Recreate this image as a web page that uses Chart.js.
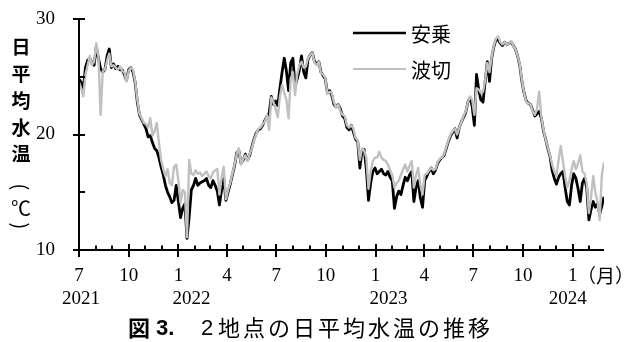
<!DOCTYPE html>
<html>
<head>
<meta charset="utf-8">
<script src="https://cdn.jsdelivr.net/npm/chart.js@4.4.1/dist/chart.umd.min.js"></script>
<style>
  html, body { margin: 0; padding: 0; background: #fff; }
  #wrap { width: 624px; height: 342px; position: relative; }
</style>
</head>
<body>
<div id="wrap"><canvas id="chart" width="624" height="342"></canvas></div>
<script>
// Daily mean water temperature (°C), one reading every 4 days from 1 Jul 2021
const seriesNames = ['安乗', '波切'];
const sampleStepDays = 4;

const anoriTemp = [
  24.8,24.5,24.0,25.8,26.4,26.6,26.2,26.0,27.6,26.6,
  25.7,25.4,25.6,26.8,27.4,25.8,26.1,25.7,25.9,25.6,
  25.6,25.2,24.7,25.6,25.8,25.4,24.5,22.8,21.7,21.3,
  20.9,20.5,19.8,19.9,19.3,18.8,18.6,18.0,17.2,16.5,
  15.6,15.0,14.6,14.1,14.3,15.6,14.2,12.8,13.6,14.0,
  11.0,12.9,15.2,15.6,16.2,15.6,15.8,15.9,16.0,16.2,
  15.6,15.4,16.0,15.6,15.1,13.9,15.2,16.2,14.3,15.0,
  15.7,16.5,17.3,18.4,18.6,17.5,17.8,18.3,17.8,18.2,
  18.9,19.6,20.1,20.4,20.5,20.8,21.2,21.6,21.8,23.3,
  22.6,22.9,22.5,24.0,25.4,26.6,25.5,23.8,26.2,26.6,
  24.2,24.8,25.6,26.8,25.4,24.9,26.5,26.9,27.1,26.3,
  26.1,26.3,25.4,25.1,24.8,23.6,23.8,23.4,22.6,22.4,
  22.6,22.2,21.6,21.4,20.6,20.4,20.8,20.2,19.6,19.4,
  17.1,18.6,18.7,17.0,14.3,15.8,16.8,17.1,16.6,16.8,
  17.0,16.6,16.5,16.8,16.3,16.0,13.6,14.6,15.1,14.8,
  15.6,16.3,16.0,16.5,16.8,14.2,15.4,16.0,14.5,13.7,
  16.0,16.4,16.8,17.1,16.6,16.9,17.5,17.8,18.0,18.2,
  18.8,19.4,19.9,20.2,20.5,19.7,20.6,21.1,21.5,21.9,
  22.8,23.2,22.4,20.8,25.2,23.9,23.0,22.8,24.6,26.3,
  24.6,26.6,27.6,28.2,28.2,27.9,27.7,28.0,27.8,27.9,
  28.0,27.7,27.4,26.8,26.0,24.6,23.6,22.9,22.7,22.6,
  22.1,21.6,21.8,22.0,21.4,20.3,19.6,18.8,18.1,16.9,
  16.2,15.7,16.3,16.6,16.8,15.4,14.2,13.9,15.6,16.6,
  16.2,15.3,14.2,15.8,16.2,15.4,12.6,13.5,14.2,13.7,
  14.0,13.1,13.8,14.6
];

const nakiriTemp = [
  24.5,24.0,23.3,25.2,26.0,26.8,26.0,26.3,27.9,26.7,
  21.7,25.5,25.6,26.4,27.0,25.9,26.0,25.8,25.6,25.9,
  25.5,25.4,24.6,25.5,25.8,25.6,24.6,23.0,21.8,21.4,
  21.0,20.9,20.6,21.4,19.9,20.3,21.0,19.3,17.8,17.0,
  16.4,17.0,15.8,15.6,17.2,17.4,16.0,14.1,15.2,15.0,
  11.1,17.8,16.6,16.5,16.9,16.6,16.7,16.4,16.6,16.8,
  16.4,16.2,16.7,16.9,17.0,14.8,16.3,17.2,14.4,15.2,
  15.8,16.6,17.4,18.3,18.8,17.4,17.9,18.2,17.7,18.3,
  18.8,19.5,20.0,20.5,20.6,20.9,21.1,21.7,20.4,23.2,
  22.8,22.2,21.5,23.3,24.3,23.6,23.0,21.4,24.8,25.4,
  23.4,25.2,26.0,26.3,25.8,25.9,26.6,26.9,27.1,26.2,
  26.0,26.3,25.3,25.2,24.9,23.5,23.7,23.6,22.8,22.3,
  22.6,22.0,21.7,21.6,20.8,20.6,20.8,20.5,19.7,19.5,
  17.8,18.8,18.6,18.0,15.3,16.8,17.7,18.0,18.0,18.5,
  18.0,17.8,17.7,17.4,16.9,16.5,15.4,15.8,16.0,16.5,
  17.0,17.4,16.8,17.3,17.7,15.4,16.5,17.1,15.6,14.8,
  16.5,16.6,16.9,17.1,16.9,17.0,17.6,17.9,18.0,18.3,
  18.9,19.5,20.0,20.3,20.5,20.0,20.6,21.1,21.6,22.0,
  22.8,23.3,23.0,21.7,24.0,23.9,23.6,23.7,24.7,26.2,
  25.4,26.7,27.7,28.3,28.5,28.0,27.8,28.0,27.8,27.9,
  28.1,27.7,27.4,26.8,26.1,24.7,23.6,22.8,22.7,22.6,
  22.0,21.7,22.2,23.7,21.5,20.4,19.6,18.9,18.2,17.4,
  16.8,16.4,17.8,19.0,17.7,16.4,15.4,16.0,17.0,17.7,
  17.0,17.5,18.2,16.8,16.6,15.8,13.2,14.6,16.4,15.0,
  14.2,12.6,16.5,17.6
];

const yTickValues = [10, 20, 30];
const yMinorTickValues = [15, 25];
const labeledMonths = [1, 4, 7, 10];
const monthUnit = '（月）';
const yAxisTitle = ['日', '平', '均', '水', '温'];
const caption = { head: '図', num: '3.', sub: '2', body: '地点の日平均水温の推移' };

// Calendar helpers: x values are days counted from 1 Jul 2021
const originUTC = Date.UTC(2021, 6, 1);
const dayOf = (y, m) => Math.round((Date.UTC(y, m - 1, 1) - originUTC) / 86400000);
const lastDay = (anoriTemp.length - 1) * sampleStepDays;

const monthTicks = [];
for (let y = 2021, m = 7; ; ) {
  const d = dayOf(y, m);
  if (d > lastDay) break;
  monthTicks.push({ y, m, d });
  m++;
  if (m > 12) { m = 1; y++; }
}
// year captions sit under the first tick of each year, nudged sideways a little
const yearLabels = [
  { text: '2021', d: dayOf(2021, 7), dx: 2 },
  { text: '2022', d: dayOf(2022, 1), dx: 13 },
  { text: '2023', d: dayOf(2023, 1), dx: 13 },
  { text: '2024', d: dayOf(2024, 1), dx: -5 }
];

const toPoints = arr => arr.map((v, i) => ({ x: i * sampleStepDays, y: v }));

const serif = '"Liberation Serif", "Times New Roman", serif';
const gothic = '"Noto Sans CJK JP", "Noto Sans", sans-serif';

const decorations = {
  id: 'decorations',
  afterDraw(chart) {
    const { ctx, chartArea: a, scales: { x, y } } = chart;
    ctx.save();

    // axes with crossing major ticks and inward minor ticks
    ctx.strokeStyle = '#000';
    ctx.lineWidth = 2;
    ctx.beginPath();
    ctx.moveTo(a.left, a.top);
    ctx.lineTo(a.left, a.bottom + 1);
    ctx.moveTo(a.left - 1, a.bottom);
    ctx.lineTo(a.right, a.bottom);
    yTickValues.forEach(v => {
      const py = Math.round(y.getPixelForValue(v));
      ctx.moveTo(a.left - 6, py); ctx.lineTo(a.left + 6, py);
    });
    yMinorTickValues.forEach(v => {
      const py = Math.round(y.getPixelForValue(v));
      ctx.moveTo(a.left, py); ctx.lineTo(a.left + 6, py);
    });
    monthTicks.forEach(t => {
      const px = Math.round(x.getPixelForValue(t.d));
      if (labeledMonths.includes(t.m)) {
        ctx.moveTo(px, a.bottom - 6); ctx.lineTo(px, a.bottom + 7);
      } else {
        ctx.moveTo(px, a.bottom - 4.5); ctx.lineTo(px, a.bottom);
      }
    });
    ctx.stroke();

    ctx.fillStyle = '#000';
    ctx.textBaseline = 'middle';

    // years under the month numbers
    ctx.textAlign = 'center';
    ctx.font = '19px ' + serif;
    yearLabels.forEach(l => ctx.fillText(l.text, x.getPixelForValue(l.d) + l.dx, 299.5));

    // vertical axis title
    ctx.font = 'bold 19px ' + gothic;
    yAxisTitle.forEach((ch, i) => ctx.fillText(ch, 21, 47 + i * 26.8));
    ctx.font = '20px ' + gothic;
    ctx.fillText('℃', 21, 208);
    [['(', 187], [')', 226]].forEach(([ch, py]) => {
      ctx.save();
      ctx.translate(21, py);
      ctx.rotate(Math.PI / 2);
      ctx.fillText(ch, 0, 0);
      ctx.restore();
    });

    // month unit after the last label
    ctx.textAlign = 'left';
    ctx.font = '19px ' + gothic;
    ctx.fillText(monthUnit, 577, 276);

    // legend
    const legendRows = [
      { name: seriesNames[0], color: '#000', width: 2.6, y: 33 },
      { name: seriesNames[1], color: '#c0c0c0', width: 2, y: 69 }
    ];
    legendRows.forEach(r => {
      ctx.strokeStyle = r.color;
      ctx.lineWidth = r.width;
      ctx.beginPath();
      ctx.moveTo(353, r.y); ctx.lineTo(406, r.y);
      ctx.stroke();
      ctx.fillStyle = '#000';
      ctx.font = '20px ' + gothic;
      ctx.fillText(r.name, 411, r.y + 1);
    });

    // caption
    ctx.font = 'bold 22px ' + gothic;
    ctx.fillText(caption.head, 128, 328);
    ctx.font = 'bold 22px "Liberation Sans", Arial, sans-serif';
    ctx.fillText(caption.num, 156, 329);
    ctx.font = '22px "Liberation Sans", Arial, sans-serif';
    ctx.fillText(caption.sub, 201, 329);
    ctx.font = '22px ' + gothic;
    ctx.letterSpacing = '3px';
    ctx.fillText(caption.body, 218, 328);
    ctx.letterSpacing = '0px';

    ctx.restore();
  }
};

new Chart(document.getElementById('chart'), {
  type: 'line',
  data: {
    datasets: [
      {
        label: seriesNames[0],
        data: toPoints(anoriTemp),
        borderColor: '#000',
        borderWidth: 2.8,
        pointRadius: 0,
        tension: 0,
        borderJoinStyle: 'round',
        order: 1
      },
      {
        label: seriesNames[1],
        data: toPoints(nakiriTemp),
        borderColor: '#c0c0c0',
        borderWidth: 2.4,
        pointRadius: 0,
        tension: 0,
        borderJoinStyle: 'round',
        order: 0
      }
    ]
  },
  options: {
    responsive: false,
    animation: false,
    devicePixelRatio: 1,
    layout: { padding: { left: 0, top: 19, right: 20, bottom: 0 } },
    plugins: { legend: { display: false }, tooltip: { enabled: false }, title: { display: false } },
    scales: {
      x: {
        type: 'linear',
        min: 0,
        max: lastDay,
        grid: { display: false, drawTicks: true, tickLength: 12 },
        border: { display: false },
        afterBuildTicks: s => { s.ticks = monthTicks.map(t => ({ value: t.d })); },
        afterFit: s => { s.height = 92; },
        ticks: {
          autoSkip: false,
          maxRotation: 0,
          minRotation: 0,
          padding: 2.5,
          color: '#000',
          font: { family: serif, size: 19, lineHeight: 1.22 },
          callback: (value, index) => {
            const t = monthTicks[index];
            return (t && labeledMonths.includes(t.m)) ? String(t.m) : '';
          }
        }
      },
      y: {
        min: 10,
        max: 30,
        grid: { display: false, drawTicks: true, tickLength: 22 },
        border: { display: false },
        afterBuildTicks: s => { s.ticks = yTickValues.map(v => ({ value: v })); },
        afterFit: s => { s.width = 79; },
        ticks: {
          padding: 2,
          color: '#000',
          font: { family: serif, size: 19 }
        }
      }
    }
  },
  plugins: [decorations]
});
</script>
</body>
</html>
